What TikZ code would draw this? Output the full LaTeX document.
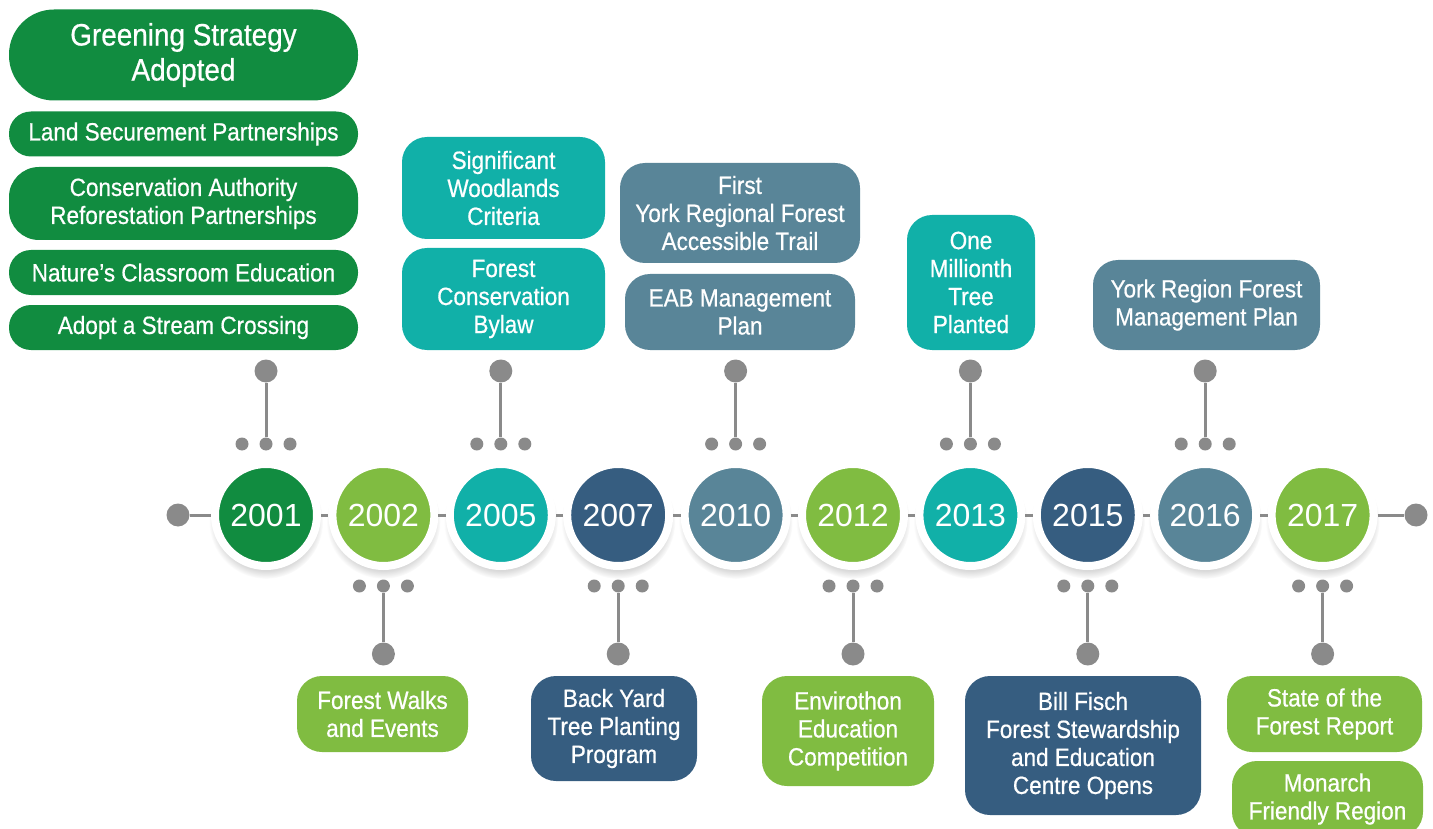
\documentclass[tikz,border=0pt]{standalone}
\usepackage{fontspec}
\setmainfont{Liberation Sans}
\newfontfamily\narrowfam{Liberation Sans}[FakeStretch=0.9, FakeBold=0.6]
\usetikzlibrary{shadows}

\definecolor{dkgreen}{HTML}{118C40}
\definecolor{ltgreen}{HTML}{80BC41}
\definecolor{tealc}{HTML}{11B0A8}
\definecolor{navyc}{HTML}{365D80}
\definecolor{steelc}{HTML}{598598}
\definecolor{tlgrey}{HTML}{8A8A8A}

\newcommand{\yrfont}{\fontsize{32}{36}\selectfont}
\newcommand{\evfont}{\narrowfam\fontsize{25}{28}\selectfont}
\newcommand{\headfont}{\narrowfam\fontsize{31}{35}\selectfont}

\tikzset{
  yearc/.style={circle, fill=#1, draw=white, line width=8pt, minimum size=102pt,
    inner sep=0pt, text=white, font=\yrfont,
    circular drop shadow={shadow xshift=0pt, shadow yshift=-6pt, shadow scale=1.12, opacity=0.3}},
  sdot/.style={circle, fill=tlgrey, minimum size=13pt, inner sep=0pt},
  bdot/.style={circle, fill=tlgrey, minimum size=23pt, inner sep=0pt},
  evbox/.style={fill=#1, text=white, font=\evfont, align=center, inner sep=0pt, rounded corners=25pt},
  tline/.style={draw=tlgrey, line width=3pt},
}

\begin{document}
\begin{tikzpicture}[x=1pt, y=-1pt]
  \useasboundingbox (0,0) rectangle (1433,829);

  % years
  \node[bdot] (lend) at (178,515) {};
  \node[bdot] (rend) at (1416,515) {};
  \node[yearc=dkgreen] (y2001) at (266,515) {2001};
  \node[yearc=ltgreen] (y2002) at (383.4,515) {2002};
  \node[yearc=tealc] (y2005) at (500.8,515) {2005};
  \node[yearc=navyc] (y2007) at (618.2,515) {2007};
  \node[yearc=steelc] (y2010) at (735.6,515) {2010};
  \node[yearc=ltgreen] (y2012) at (853,515) {2012};
  \node[yearc=tealc] (y2013) at (970.4,515) {2013};
  \node[yearc=navyc] (y2015) at (1087.8,515) {2015};
  \node[yearc=steelc] (y2016) at (1205.2,515) {2016};
  \node[yearc=ltgreen] (y2017) at (1322.6,515) {2017};
  \draw[tline] (lend) -- (y2001) -- (y2002) -- (y2005) -- (y2007) -- (y2010) -- (y2012)
    -- (y2013) -- (y2015) -- (y2016) -- (y2017) -- (rend);

  % dots and stems
  \foreach \yr/\x/\dy/\sy in {2001/266/444/371, 2002/383.4/586/654, 2005/500.8/444/371,
      2007/618.2/586/654, 2010/735.6/444/371, 2012/853/586/654, 2013/970.4/444/371,
      2015/1087.8/586/654, 2016/1205.2/444/371, 2017/1322.6/586/654}{
    \node[sdot] (l\yr) at (\x-24,\dy) {};
    \node[sdot] (m\yr) at (\x,\dy) {};
    \node[sdot] (r\yr) at (\x+24,\dy) {};
    \node[bdot] (s\yr) at (\x,\sy) {};
    \draw[tline] (m\yr) -- (s\yr);
  }

  % 2001
  \node[evbox=dkgreen, font=\headfont, minimum width=349pt, minimum height=91pt, rounded corners=45pt]
    (greening) at (183.5,55) {Greening Strategy\\Adopted};
  \node[evbox=dkgreen, minimum width=349pt, minimum height=45pt, rounded corners=22pt]
    (landsec) at (183.5,134) {Land Securement Partnerships};
  \node[evbox=dkgreen, minimum width=349pt, minimum height=73pt, rounded corners=30pt]
    (consauth) at (183.5,203.5) {Conservation Authority\\Reforestation Partnerships};
  \node[evbox=dkgreen, minimum width=349pt, minimum height=45pt, rounded corners=22pt]
    (natclass) at (183.5,272.5) {Nature’s Classroom Education};
  \node[evbox=dkgreen, minimum width=349pt, minimum height=45pt, rounded corners=22pt]
    (adopt) at (183.5,327.5) {Adopt a Stream Crossing};

  % top events
  \node[evbox=tealc, minimum width=203pt, minimum height=102pt] (sigwood) at (503.5,188)
    {Significant\\Woodlands\\Criteria};
  \node[evbox=tealc, minimum width=203pt, minimum height=102pt] (forbylaw) at (503.5,299)
    {Forest\\Conservation\\Bylaw};
  \node[evbox=steelc, minimum width=240pt, minimum height=100pt] (firsttrail) at (740,213)
    {First\\York Regional Forest\\Accessible Trail};
  \node[evbox=steelc, minimum width=230pt, minimum height=76pt] (eabplan) at (740,312)
    {EAB Management\\Plan};
  \node[evbox=tealc, minimum width=128pt, minimum height=135pt] (millionth) at (971,282.5)
    {One\\Millionth\\Tree\\Planted};
  \node[evbox=steelc, minimum width=227pt, minimum height=90pt] (yrfmp) at (1206.5,305)
    {York Region Forest\\Management Plan};

  % bottom events
  \node[evbox=ltgreen, minimum width=171pt, minimum height=76pt] (walks) at (382.5,714)
    {Forest Walks\\and Events};
  \node[evbox=navyc, minimum width=166pt, minimum height=105pt] (backyard) at (614,728.5)
    {Back Yard\\Tree Planting\\Program};
  \node[evbox=ltgreen, minimum width=172pt, minimum height=110pt] (envirothon) at (848,731)
    {Envirothon\\Education\\Competition};
  \node[evbox=navyc, minimum width=236pt, minimum height=139pt] (billfisch) at (1083,745.5)
    {Bill Fisch\\Forest Stewardship\\and Education\\Centre Opens};
  \node[evbox=ltgreen, minimum width=195pt, minimum height=76pt] (stateforest) at (1324.5,714)
    {State of the\\Forest Report};
  \node[evbox=ltgreen, minimum width=191pt, minimum height=76pt] (monarch) at (1327.5,799)
    {Monarch\\Friendly Region};
\end{tikzpicture}
\end{document}
